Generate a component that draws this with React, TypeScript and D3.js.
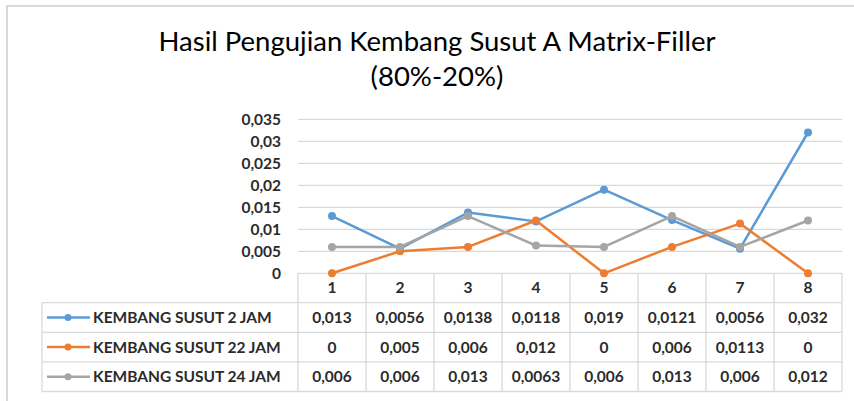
import React from "react";
import * as d3 from "d3";

const categories = ["1", "2", "3", "4", "5", "6", "7", "8"];
const seriesNames = ["KEMBANG SUSUT 2 JAM", "KEMBANG SUSUT 22 JAM", "KEMBANG SUSUT 24 JAM"];
const s2jam = [0.013, 0.0056, 0.0138, 0.0118, 0.019, 0.0121, 0.0056, 0.032];
const s22jam = [0, 0.005, 0.006, 0.012, 0, 0.006, 0.0113, 0];
const s24jam = [0.006, 0.006, 0.013, 0.0063, 0.006, 0.013, 0.006, 0.012];
const yTicks = [0, 0.005, 0.01, 0.015, 0.02, 0.025, 0.03, 0.035];
const colors = ["#5B9BD5", "#ED7D31", "#A5A5A5"];
const title1 = "Hasil Pengujian Kembang Susut A Matrix-Filler";
const title2 = "(80%-20%)";

const W = 854;
const H = 401;
const plotL = 298;
const plotR = 842;
const plotT = 119.3;
const plotB = 273.3;
const tableL = 42;
const rowH = 29.6;
const legendTop = 302.7;

const fmt = (v: number) => String(v).replace(".", ",");

export default function App() {
  const series = [s2jam, s22jam, s24jam];
  const x = d3.scaleBand<string>().domain(categories).range([plotL, plotR]);
  const y = d3.scaleLinear().domain([0, 0.035]).range([plotB, plotT]);
  const line = d3
    .line<number>()
    .x((_, i) => (x(categories[i]) as number) + x.bandwidth() / 2)
    .y((d) => y(d));
  const font = "Lato, 'Open Sans', sans-serif";
  const gridColor = "#d9d9d9";
  const textColor = "#2b2b2b";
  const fs = 15.5;
  const tableBottom = legendTop + rowH * 3;

  return (
    <svg
      width={W}
      height={H}
      style={{ position: "absolute", left: 0, top: 0, background: "#fff" }}
      fontFamily={font}
    >
      <rect x={7} y={6} width={W} height={H} fill="#fff" stroke="#d9d9d9" strokeWidth={2} />
      <text x={437} y={51} textAnchor="middle" fontSize={27.5} fill="#000">
        {title1}
      </text>
      <text x={437} y={86} textAnchor="middle" fontSize={27.5} fill="#000">
        {title2}
      </text>

      {yTicks.map((t) => (
        <g key={t}>
          {t > 0 && (
            <line x1={plotL} x2={plotR} y1={y(t)} y2={y(t)} stroke={gridColor} strokeWidth={1.3} />
          )}
          <text
            x={281}
            y={y(t)}
            dy="0.35em"
            textAnchor="end"
            fontSize={fs}
            fontWeight="bold"
            fill={textColor}
          >
            {fmt(t)}
          </text>
        </g>
      ))}

      {/* table */}
      <g stroke={gridColor} strokeWidth={1.3} fill="none">
        <line x1={plotL} x2={plotR} y1={plotB} y2={plotB} />
        {[0, 1, 2, 3].map((r) => (
          <line key={r} x1={tableL} x2={plotR} y1={legendTop + r * rowH} y2={legendTop + r * rowH} />
        ))}
        <line x1={tableL} x2={tableL} y1={legendTop} y2={tableBottom} />
        {categories.map((c) => (
          <line key={c} x1={x(c) as number} x2={x(c) as number} y1={plotB} y2={tableBottom} />
        ))}
        <line x1={plotR} x2={plotR} y1={plotB} y2={tableBottom} />
      </g>
      {categories.map((c) => (
        <text
          key={c}
          x={(x(c) as number) + x.bandwidth() / 2}
          y={(plotB + legendTop) / 2}
          dy="0.35em"
          textAnchor="middle"
          fontSize={fs}
          fontWeight="bold"
          fill={textColor}
        >
          {c}
        </text>
      ))}
      {series.map((s, si) => {
        const cy = legendTop + rowH * si + rowH / 2;
        return (
          <g key={si}>
            <line x1={47} x2={90} y1={cy} y2={cy} stroke={colors[si]} strokeWidth={2.5} />
            <circle cx={68} cy={cy} r={3.5} fill={colors[si]} />
            <text x={93} y={cy} dy="0.35em" fontSize={fs} fontWeight="bold" fill={textColor}>
              {seriesNames[si]}
            </text>
            {s.map((v, i) => (
              <text
                key={i}
                x={(x(categories[i]) as number) + x.bandwidth() / 2}
                y={cy}
                dy="0.35em"
                textAnchor="middle"
                fontSize={fs}
                fontWeight="bold"
                fill={textColor}
              >
                {fmt(v)}
              </text>
            ))}
          </g>
        );
      })}

      {/* lines */}
      {series.map((s, si) => (
        <g key={si}>
          <path d={line(s) as string} fill="none" stroke={colors[si]} strokeWidth={2.5} strokeLinejoin="round" />
          {s.map((v, i) => (
            <circle
              key={i}
              cx={(x(categories[i]) as number) + x.bandwidth() / 2}
              cy={y(v)}
              r={4}
              fill={colors[si]}
            />
          ))}
        </g>
      ))}
    </svg>
  );
}
